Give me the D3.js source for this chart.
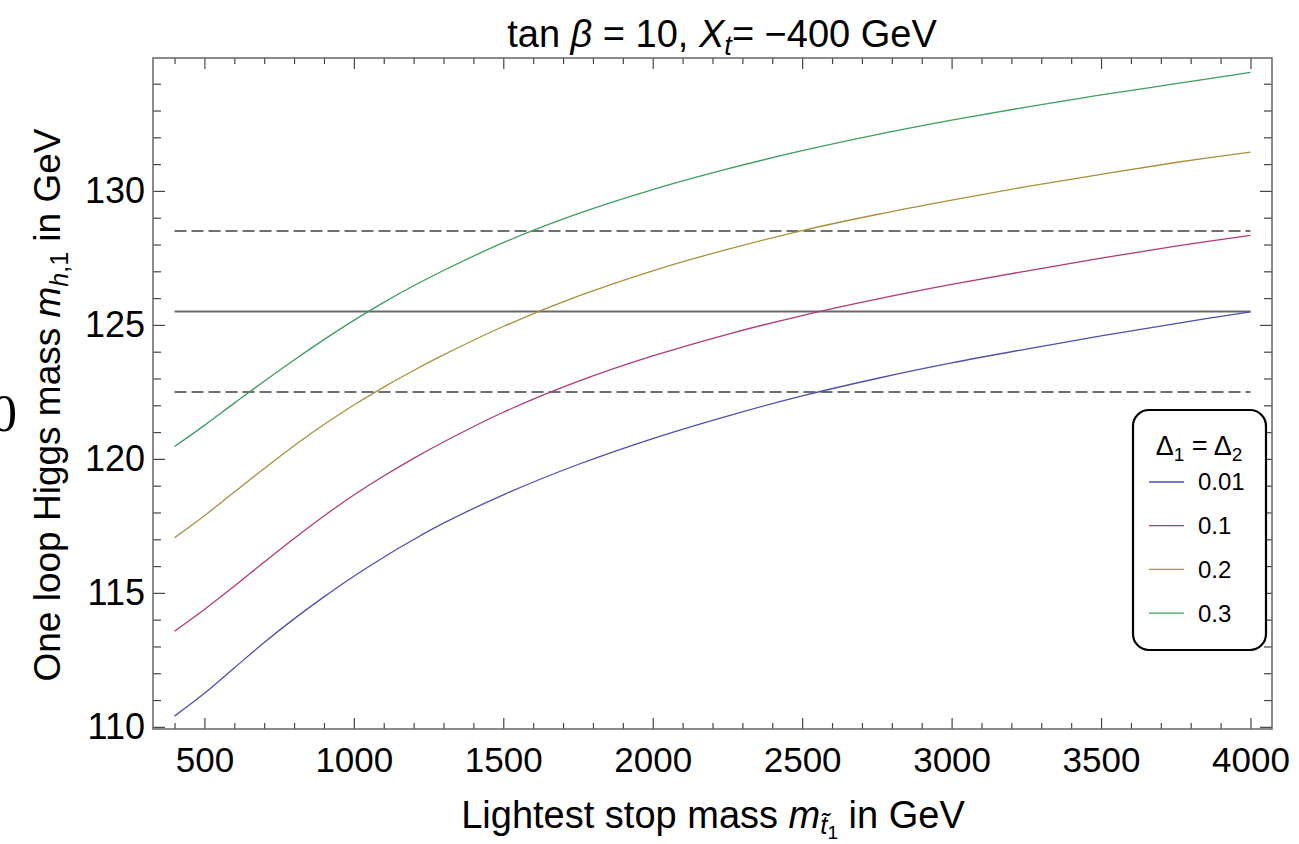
<!DOCTYPE html>
<html>
<head>
<meta charset="utf-8">
<script src="https://cdn.jsdelivr.net/npm/d3@7"></script>
<style>
  body { margin: 0; background: #fff; }
  svg { display: block; font-family: "Liberation Sans", Arial, sans-serif; }
</style>
</head>
<body>
<svg id="chart" width="1299" height="844"></svg>
<script>
const stopMass = [400, 500, 600, 700, 800, 900, 1000, 1100, 1200, 1300, 1500, 1750,
                  2000, 2250, 2500, 2750, 3000, 3250, 3500, 3750, 4000];

// one loop Higgs mass for each Delta1 = Delta2
const higgs001 = [110.4, 111.25, 112.2, 113.15, 114.03, 114.85, 115.62, 116.33, 116.99, 117.6, 118.66, 119.79,
                  120.76, 121.6, 122.35, 123.0, 123.58, 124.1, 124.59, 125.05, 125.49];
const higgs01  = [113.57, 114.38, 115.25, 116.15, 117.03, 117.87, 118.65, 119.36, 120.02, 120.63, 121.74, 122.89,
                  123.84, 124.65, 125.35, 125.96, 126.51, 127.01, 127.49, 127.94, 128.34];
const higgs02  = [117.06, 117.88, 118.76, 119.64, 120.49, 121.28, 122.01, 122.68, 123.3, 123.88, 124.94, 126.07,
                  127.02, 127.82, 128.52, 129.12, 129.66, 130.16, 130.62, 131.06, 131.45];
const higgs03  = [120.46, 121.25, 122.08, 122.9, 123.69, 124.45, 125.17, 125.84, 126.46, 127.03, 128.07, 129.15,
                  130.05, 130.82, 131.5, 132.1, 132.64, 133.13, 133.58, 134.0, 134.42];

const legendLabels = ["0.01", "0.1", "0.2", "0.3"];
const colors = ["#4f4fb2", "#b03a78", "#a8913a", "#3e9e5e"];
const allSeries = [higgs001, higgs01, higgs02, higgs03];

// reference band: central value and +- 3 GeV
const refCentral = 125.5;
const refBand = [122.5, 128.5];

const xMajor = [500, 1000, 1500, 2000, 2500, 3000, 3500, 4000];
const yMajor = [110, 115, 120, 125, 130];

const plotLeft = 153, plotRight = 1272, plotTop = 58, plotBottom = 729;

const x = d3.scaleLinear().domain([328, 4072]).range([plotLeft, plotRight]);
const y = d3.scaleLinear().domain([109.92, 134.96]).range([plotBottom, plotTop]);

const svg = d3.select("#chart");

const xMinor = d3.range(400, 4001, 100).filter(v => xMajor.indexOf(v) < 0);
const yMinor = d3.range(110, 135, 1).filter(v => yMajor.indexOf(v) < 0);

function styleAxis(g) {
  g.select(".domain").remove();
  g.selectAll("line").attr("stroke", "#444").attr("stroke-width", 1.2);
  g.selectAll("text").attr("font-size", 35).attr("fill", "#000")
    .attr("font-family", "'Liberation Sans', Arial, sans-serif");
}

// bottom axis
svg.append("g").attr("transform", `translate(0,${plotBottom})`)
  .call(d3.axisBottom(x).tickValues(xMajor).tickSize(-11).tickPadding(18).tickFormat(d3.format("d")))
  .call(styleAxis);
svg.append("g").attr("transform", `translate(0,${plotBottom})`)
  .call(d3.axisBottom(x).tickValues(xMinor).tickSize(-6).tickFormat(""))
  .call(styleAxis);
// top axis (mirror)
svg.append("g").attr("transform", `translate(0,${plotTop})`)
  .call(d3.axisTop(x).tickValues(xMajor).tickSize(-11).tickFormat(""))
  .call(styleAxis);
svg.append("g").attr("transform", `translate(0,${plotTop})`)
  .call(d3.axisTop(x).tickValues(xMinor).tickSize(-6).tickFormat(""))
  .call(styleAxis);
// left axis
svg.append("g").attr("transform", `translate(${plotLeft},0)`)
  .call(d3.axisLeft(y).tickValues(yMajor).tickSize(-12).tickPadding(8).tickFormat(d3.format("d")))
  .call(styleAxis)
  .call(g => g.selectAll("text").attr("font-size", 36));
svg.append("g").attr("transform", `translate(${plotLeft},0)`)
  .call(d3.axisLeft(y).tickValues(yMinor).tickSize(-8).tickFormat(""))
  .call(styleAxis);
// right axis (mirror)
svg.append("g").attr("transform", `translate(${plotRight},0)`)
  .call(d3.axisRight(y).tickValues(yMajor).tickSize(-12).tickFormat(""))
  .call(styleAxis);
svg.append("g").attr("transform", `translate(${plotRight},0)`)
  .call(d3.axisRight(y).tickValues(yMinor).tickSize(-8).tickFormat(""))
  .call(styleAxis);

// frame
svg.append("rect")
  .attr("x", plotLeft).attr("y", plotTop)
  .attr("width", plotRight - plotLeft).attr("height", plotBottom - plotTop)
  .attr("fill", "none").attr("stroke", "#666").attr("stroke-width", 1.5);

// reference lines
svg.append("line")
  .attr("x1", x(400)).attr("x2", x(4000))
  .attr("y1", y(refCentral)).attr("y2", y(refCentral))
  .attr("stroke", "#6a6a6a").attr("stroke-width", 2);
svg.selectAll(".band").data(refBand).enter().append("line")
  .attr("class", "band")
  .attr("x1", x(400)).attr("x2", x(4000))
  .attr("y1", d => y(d)).attr("y2", d => y(d))
  .attr("stroke", "#707070").attr("stroke-width", 2)
  .attr("stroke-dasharray", "12,5");

// curves
const line = d3.line()
  .x((d, i) => x(stopMass[i]))
  .y(d => y(d))
  .curve(d3.curveCatmullRom.alpha(0.5));

svg.selectAll(".curve").data(allSeries).enter().append("path")
  .attr("class", "curve")
  .attr("d", d => line(d))
  .attr("fill", "none")
  .attr("stroke", (d, i) => colors[i])
  .attr("stroke-width", 1.3);

// title
const title = svg.append("text")
  .attr("x", 722).attr("y", 47)
  .attr("text-anchor", "middle")
  .attr("font-size", 38);
title.append("tspan").text("tan ");
title.append("tspan").attr("font-style", "italic").text("β");
title.append("tspan").text(" = 10, ");
title.append("tspan").attr("font-style", "italic").text("X");
title.append("tspan").attr("font-style", "italic").attr("font-size", 27).attr("dy", 8).text("t");
title.append("tspan").attr("dy", -8).text("= \u2212400 GeV");

// x label
const xl = svg.append("text")
  .attr("x", 713).attr("y", 828)
  .attr("text-anchor", "middle")
  .attr("font-size", 38);
xl.append("tspan").text("Lightest stop mass ");
xl.append("tspan").attr("font-style", "italic").text("m");
xl.append("tspan").attr("font-style", "italic").attr("font-size", 26).attr("dy", 6).text("t\u0303");
xl.append("tspan").attr("font-size", 19).attr("dy", 5).text("1");
xl.append("tspan").attr("dy", -11).text(" in GeV");

// y label
const yl = svg.append("text")
  .attr("transform", `translate(60,405) rotate(-90)`)
  .attr("text-anchor", "middle")
  .attr("font-size", 37);
yl.append("tspan").text("One loop Higgs mass ");
yl.append("tspan").attr("font-style", "italic").text("m");
yl.append("tspan").attr("font-style", "italic").attr("font-size", 25).attr("dy", 8).text("h");
yl.append("tspan").attr("font-size", 25).text(",1");
yl.append("tspan").attr("dy", -8).text(" in GeV");

// stray glyph at the left edge
svg.append("text")
  .attr("x", -9).attr("y", 431)
  .attr("font-family", "'Liberation Serif', 'Times New Roman', serif")
  .attr("font-size", 52)
  .text("0");

// legend
const lg = svg.append("g");
lg.append("rect")
  .attr("x", 1133).attr("y", 410)
  .attr("width", 133).attr("height", 240)
  .attr("rx", 16).attr("ry", 16)
  .attr("fill", "#fff").attr("stroke", "#000").attr("stroke-width", 2.2);

const lt = lg.append("text").attr("x", 1199).attr("y", 455)
  .attr("text-anchor", "middle").attr("font-size", 27);
lt.append("tspan").text("Δ");
lt.append("tspan").attr("font-size", 19).attr("dy", 6).text("1");
lt.append("tspan").attr("dy", -6).text(" = Δ");
lt.append("tspan").attr("font-size", 19).attr("dy", 6).text("2");

const entries = lg.selectAll(".entry").data(legendLabels).enter().append("g")
  .attr("class", "entry")
  .attr("transform", (d, i) => `translate(0,${482 + i * 43.7})`);
entries.append("line")
  .attr("x1", 1149).attr("x2", 1184)
  .attr("stroke", (d, i) => colors[i]).attr("stroke-width", 1.3);
entries.append("text")
  .attr("x", 1198).attr("dy", "0.35em")
  .attr("font-size", 24)
  .text(d => d);
</script>
</body>
</html>
